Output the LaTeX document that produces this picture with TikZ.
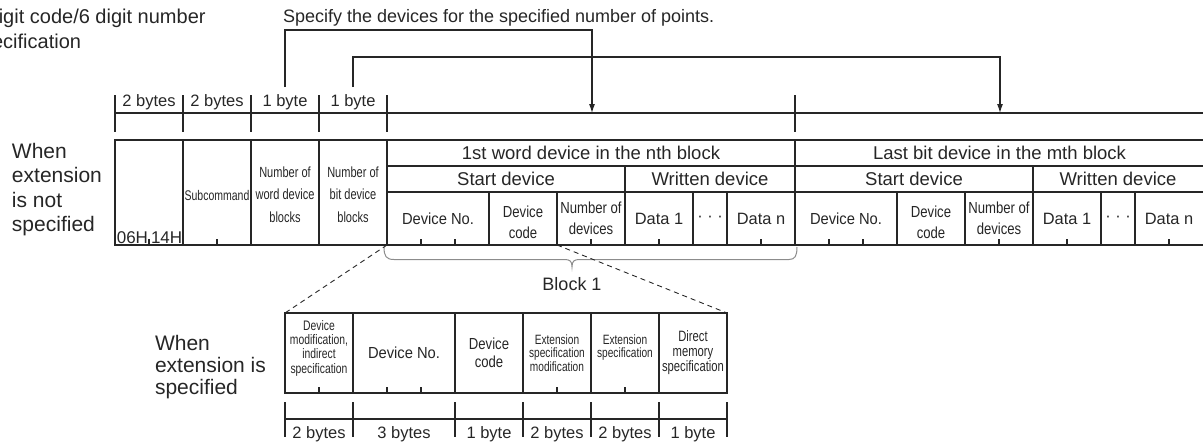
\documentclass[tikz,border=0pt]{standalone}
\usepackage{fontspec}
\setmainfont{Liberation Sans}
\newfontfamily\nA[FakeStretch=0.75]{Liberation Sans}
\newfontfamily\nB[FakeStretch=0.82]{Liberation Sans}
\newfontfamily\nC[FakeStretch=0.92]{Liberation Sans}
\usetikzlibrary{arrows.meta}
\definecolor{ink}{HTML}{262626}
\definecolor{brc}{HTML}{8C8C8C}
\newcommand{\mkcell}[7]{\node[cellbox,#6,minimum width={#4-#2},minimum height={#5-#3}] (#1) at ({(#2+#4)/2},{(#3+#5)/2}) {#7};}
\begin{document}
\begin{tikzpicture}[x=1pt,y=-1pt,
  ln/.style={draw=ink,line width=1.1pt},
  arr/.style={ln,-{Latex[length=9pt,width=6pt]}},
  dsh/.style={draw=ink,line width=0.9pt,dash pattern=on 5pt off 4pt},
  cellbox/.style={draw=ink,line width=1.1pt,inner sep=0pt,outer sep=0pt,align=center,text=ink},
  txt/.style={inner sep=0pt,outer sep=0pt,text=ink,align=center},
  lbl/.style={txt,font=\fontsize{21}{25}\selectfont,anchor=base west},
  rul/.style={txt,font=\fontsize{16.5}{20}\selectfont,anchor=base},
  hdr/.style={font=\fontsize{18.5}{22}\selectfont},
  fDN/.style={font=\nC\fontsize{16}{20}\selectfont},
  fDC/.style={font=\nB\fontsize{16}{21}\selectfont},
  fDCs/.style={font=\nB\fontsize{16}{18}\selectfont},
  fData/.style={font=\fontsize{16.4}{20}\selectfont},
  fBlk/.style={font=\nA\fontsize{14.7}{22.5}\selectfont},
  fSub/.style={font=\nA\fontsize{14}{17}\selectfont},
  fExt/.style={font=\nA\fontsize{13.5}{13.2}\selectfont},
  fDev/.style={font=\nA\fontsize{13.8}{14.3}\selectfont},
  fDir/.style={font=\nA\fontsize{15}{15}\selectfont}]
\useasboundingbox (0,0) rectangle (1203,447);

% top-left note (cut by the left edge, as in the reference)
\node[txt,font=\fontsize{20}{24.5}\selectfont,anchor=base west] (note1) at (-29,23.5) {2 digit code/6 digit number};
\node[txt,font=\fontsize{20}{24.5}\selectfont,anchor=base west] (note2) at (-29,48) {specification};

% top text
\node[txt,font=\fontsize{18}{22}\selectfont,anchor=base west] (spec) at (283,22) {Specify the devices for the specified number of points.};

% top ruler
\draw[ln] (115,113) -- (1215,113);
\foreach \x in {115,183,251,319,387,795} \draw[ln] (\x,95) -- (\x,132);
\node[rul] (r1) at (149,106) {2 bytes};
\node[rul] (r2) at (217,106) {2 bytes};
\node[rul] (r3) at (285,106) {1 byte};
\node[rul] (r4) at (353,106) {1 byte};

% pointer connectors
\coordinate (p1) at (285,87); \coordinate (q1) at (592,113);
\coordinate (p2) at (353,87); \coordinate (q2) at (1000,113);
\draw[arr] (p1) -- ++(0,-57) -| (q1);
\draw[arr] (p2) -- ++(0,-30) -| (q2);

% left label
\node[lbl] (w1) at (12,158) {When};
\node[lbl] (w2) at (12,182.5) {extension};
\node[lbl] (w3) at (12,207) {is not};
\node[lbl] (w4) at (12,231.5) {specified};

% main table: fixed part
\mkcell{op}{115}{140}{183}{245}{}{}
\node[txt,font=\fontsize{17}{20}\selectfont,anchor=base east] (op1) at (148,243.5) {06H};
\node[txt,font=\fontsize{17}{20}\selectfont,anchor=base west] (op2) at (151,243.5) {14H};
\mkcell{sub}{183}{140}{251}{245}{}{}
\node[txt,fSub] (subt) at (217,195) {Subcommand};
\mkcell{nw}{251}{140}{319}{245}{}{}
\node[txt,fBlk] (nwt) at (285,194.5) {Number of\\word device\\blocks};
\mkcell{nb}{319}{140}{387}{245}{}{}
\node[txt,fBlk] (nbt) at (353,194.5) {Number of\\bit device\\blocks};

% block 1
\mkcell{h1}{387}{140}{795}{166}{hdr}{1st word device in the nth block}
\mkcell{sd1}{387}{166}{625}{192}{hdr}{Start device}
\mkcell{wd1}{625}{166}{795}{192}{hdr}{Written device}
\mkcell{dn1}{387}{192}{489}{245}{fDN}{Device No.}
\mkcell{dc1}{489}{192}{557}{245}{}{}
\node[txt,fDC] (dc1t) at (523,222) {Device\\code};
\mkcell{nd1}{557}{192}{625}{245}{fDC}{Number of\\devices}
\mkcell{da1}{625}{192}{693}{245}{fData}{Data 1}
\mkcell{dd1}{693}{192}{727}{245}{fData}{· · ·}
\mkcell{dz1}{727}{192}{795}{245}{fData}{Data n}

% block 2 (runs off the right edge)
\mkcell{h2}{795}{140}{1215}{166}{}{}
\node[txt,hdr] (h2t) at (999.5,153) {Last bit device in the mth block};
\mkcell{sd2}{795}{166}{1033}{192}{hdr}{Start device}
\mkcell{wd2}{1033}{166}{1215}{192}{}{}
\node[txt,hdr] (wd2t) at (1118,179) {Written device};
\mkcell{dn2}{795}{192}{897}{245}{fDN}{Device No.}
\mkcell{dc2}{897}{192}{965}{245}{}{}
\node[txt,fDC] (dc2t) at (931,222) {Device\\code};
\mkcell{nd2}{965}{192}{1033}{245}{fDC}{Number of\\devices}
\mkcell{da2}{1033}{192}{1101}{245}{fData}{Data 1}
\mkcell{dd2}{1101}{192}{1135}{245}{fData}{· · ·}
\mkcell{dz2}{1135}{192}{1215}{245}{}{}
\node[txt,fData] (dz2t) at (1169,218.5) {Data n};

% byte ticks in main table
\foreach \x in {149,217,421,455,591,659,761,829,863,999,1067,1169} \draw[ln] (\x,245) -- (\x,238.5);

% brace and Block 1
\draw[brc,line width=1pt] (384,247) .. controls (384,256) and (386,259.5) .. (394,259.5) -- (564,259.5)
  .. controls (570,259.5) and (572,261) .. (572,267)
  .. controls (572,261) and (574,259.5) .. (580,259.5) -- (789,259.5)
  .. controls (795,259.5) and (797,256) .. (797,247);
\node[txt,font=\fontsize{18}{22}\selectfont,anchor=base] (blk) at (572,290) {Block 1};

% lower table
\mkcell{lc1}{285}{313}{353}{393}{}{}
\node[txt,fDev] (lc1t) at (319,348) {Device\\modification,\\indirect\\specification};
\mkcell{lc2}{353}{313}{455}{393}{fDN}{Device No.}
\mkcell{lc3}{455}{313}{523}{393}{fDCs}{Device\\code}
\mkcell{lc4}{523}{313}{591}{393}{fExt}{Extension\\specification\\modification}
\mkcell{lc5}{591}{313}{659}{393}{}{}
\node[txt,fExt] (lc5t) at (625,347.5) {Extension\\specification};
\mkcell{lc6}{659}{313}{727}{393}{fDir}{Direct\\memory\\specification}
\foreach \x in {319,387,421,557,625} \draw[ln] (\x,393) -- (\x,386.5);

% expansion lines
\draw[dsh] (dn1.south west) -- (lc1.north west);
\draw[dsh] (dc1.south east) -- (lc6.north east);

% lower label
\node[lbl] (e1) at (155,350) {When};
\node[lbl] (e2) at (155,372) {extension is};
\node[lbl] (e3) at (155,394) {specified};

% lower ruler
\draw[ln] (285,419) -- (727,419);
\foreach \x in {285,353,455,523,591,659,727} \draw[ln] (\x,402) -- (\x,437);
\node[rul] (s1) at (319,438) {2 bytes};
\node[rul] (s2) at (404,438) {3 bytes};
\node[rul] (s3) at (489,438) {1 byte};
\node[rul] (s4) at (557,438) {2 bytes};
\node[rul] (s5) at (625,438) {2 bytes};
\node[rul] (s6) at (693,438) {1 byte};
\end{tikzpicture}
\end{document}
